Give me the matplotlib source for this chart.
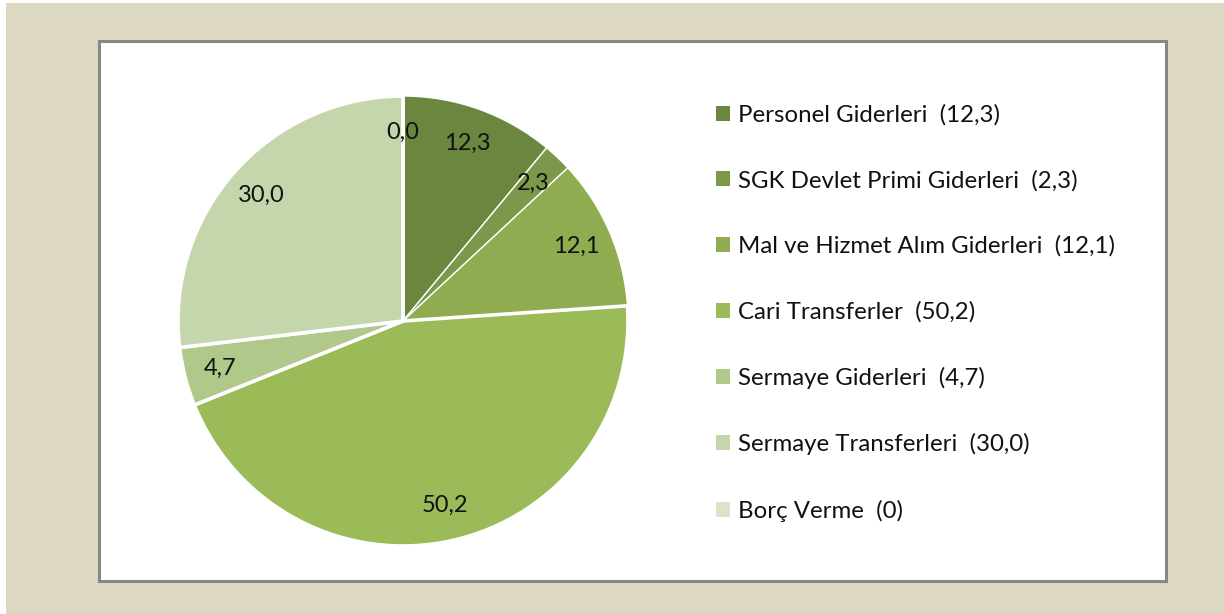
import matplotlib
matplotlib.use("Agg")
import matplotlib.pyplot as plt
from matplotlib.patches import Rectangle

# data (values in %, comma decimals as in source)
categories = [
    "Personel Giderleri",
    "SGK Devlet Primi Giderleri",
    "Mal ve Hizmet Alım Giderleri",
    "Cari Transferler",
    "Sermaye Giderleri",
    "Sermaye Transferleri",
    "Borç Verme",
]
values = [12.3, 2.3, 12.1, 50.2, 4.7, 30.0, 0.0]
legend_values = ["12,3", "2,3", "12,1", "50,2", "4,7", "30,0", "0"]
colors = ["#6b863f", "#7c984a", "#8fad50", "#9bbb59", "#b1c88b", "#c5d6ac", "#d9e4c8"]

W, H = 1224, 614
plt.rcParams["font.family"] = ["Lato", "DejaVu Sans"]

fig = plt.figure(figsize=(W / 100, H / 100), dpi=100)
fig.patch.set_facecolor("white")

# beige frame and white plot area with a grey border
fig.patches.append(Rectangle((6 / W, 0), 1 - 6 / W, 1 - 3 / H,
                             transform=fig.transFigure, facecolor="#ddd8c2",
                             edgecolor="none", zorder=0))
fig.patches.append(Rectangle((99 / W, 1 - 581 / H), 1067 / W, 540 / H,
                             transform=fig.transFigure, facecolor="white",
                             edgecolor="#878787", linewidth=2.2, zorder=1))

cx, cy, r = 403, 321, 225
ax = fig.add_axes([(cx - r) / W, (H - cy - r) / H, 2 * r / W, 2 * r / H])
ax.set_zorder(2)

labels = [f"{v:.1f}".replace(".", ",") for v in values]
wedges, texts = ax.pie(
    values, labels=labels, colors=colors, startangle=90, counterclock=False,
    labeldistance=0.84, radius=1.0,
    wedgeprops=dict(edgecolor="white", linewidth=2.6),
    textprops=dict(fontsize=17, color="#111111", ha="center", va="center"),
)
# the first three slices are separated only by thin lines in the source
for w in wedges[:3]:
    w.set_linewidth(1.0)
ax.set_xlim(-1, 1)
ax.set_ylim(-1, 1)
ax.set_aspect("equal")
ax.axis("off")

leg_labels = [f"{c}  ({v})" for c, v in zip(categories, legend_values)]
handles = [Rectangle((0, 0), 1, 1, facecolor=c, edgecolor="none") for c in colors]
leg = fig.legend(handles, leg_labels, loc="upper left",
                 bbox_to_anchor=(716 / W, 1 - 104 / H), frameon=False,
                 fontsize=17.3, handlelength=0.58, handleheight=0.58,
                 handletextpad=0.35, labelspacing=1.84, borderaxespad=0,
                 borderpad=0)
for t in leg.get_texts():
    t.set_color("#111111")

fig.savefig("out.png", dpi=100)
